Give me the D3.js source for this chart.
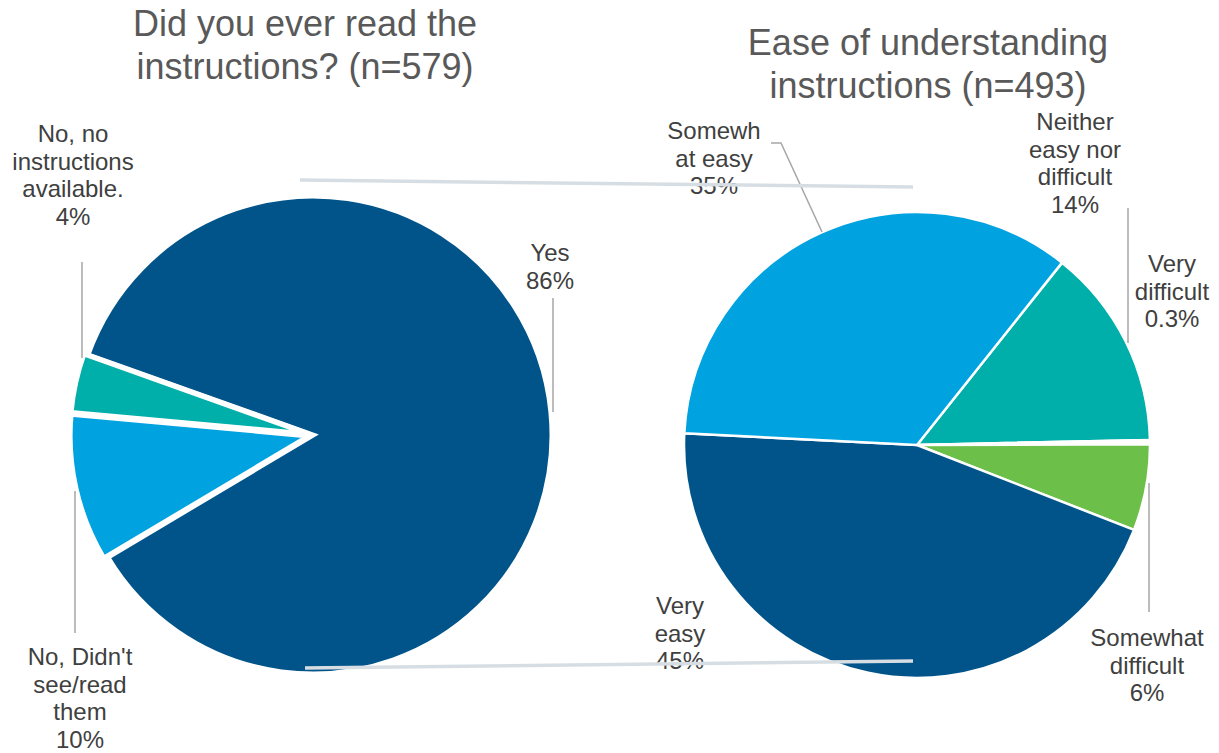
<!DOCTYPE html>
<html>
<head>
<meta charset="utf-8">
<script src="https://cdn.jsdelivr.net/npm/d3@7"></script>
<style>
  html, body { margin: 0; padding: 0; background: #fff; }
  svg { display: block; }
  text { font-family: "Liberation Sans", Arial, sans-serif; }
</style>
</head>
<body>
<svg id="chart" width="1219" height="753"></svg>
<script>
// ---------------- data ----------------
const leftTitle = ["Did you ever read the", "instructions? (n=579)"];
const leftCategories = ["Yes", "No, Didn't see/read them", "No, no instructions available."];
const leftValues = [86, 10, 4];
const leftValueLabels = ["86%", "10%", "4%"];

const rightTitle = ["Ease of understanding", "instructions (n=493)"];
const rightCategories = ["Neither easy nor difficult", "Very difficult", "Somewhat difficult", "Very easy", "Somewhat easy"];
const rightValues = [14, 0.3, 6, 45, 35];
const rightValueLabels = ["14%", "0.3%", "6%", "45%", "35%"];

// ---------------- styles / layout ----------------
const leftColors = ["#00548A", "#00A3E0", "#00AFA9"];
const rightColors = ["#00AFA9", "#FFFFFF", "#6CC04A", "#00548A", "#00A3E0"];
const deg = Math.PI / 180;

const L = { cx: 313, cy: 435, r: 239, start: -70.4 * deg, stroke: 5 };
const R = { cx: 917, cy: 445, r: 233, start: 38.5 * deg, stroke: 2.5 };

// label layout: lines of text, center x, first baseline, leader polyline
const leftLabelLayout = [
  { lines: ["Yes", "86%"], x: 550, y: 261, leader: [[553, 298], [553, 412]] },
  { lines: ["No, Didn't", "see/read", "them", "10%"], x: 80, y: 665, leader: [[75, 491], [75, 633]] },
  { lines: ["No, no", "instructions", "available.", "4%"], x: 73, y: 142, leader: [[82, 262], [82, 358]] }
];
const rightLabelLayout = [
  { lines: ["Neither", "easy nor", "difficult", "14%"], x: 1075, y: 130, leader: null },
  { lines: ["Very", "difficult", "0.3%"], x: 1172, y: 272, leader: [[1128, 208], [1128, 343]] },
  { lines: ["Somewhat", "difficult", "6%"], x: 1147, y: 646, leader: [[1149, 483], [1149, 612]] },
  { lines: ["Very", "easy", "45%"], x: 680, y: 614, leader: null },
  { lines: ["Somewh", "at easy", "35%"], x: 714, y: 139, leader: [[771, 143], [781, 143], [822, 232]] }
];
const lineStep = 27.6;

const svg = d3.select("#chart");

// ---------------- pies ----------------
function drawPie(cfg, values, colors, explodeIdx, explodeDist) {
  const pie = d3.pie().sort(null).value(d => d)
    .startAngle(cfg.start).endAngle(cfg.start + 2 * Math.PI);
  const arcs = pie(values);
  const arc = d3.arc().innerRadius(0).outerRadius(cfg.r);
  const g = svg.append("g").attr("transform", `translate(${cfg.cx},${cfg.cy})`);
  g.selectAll("path").data(arcs).join("path")
    .attr("d", arc)
    .attr("fill", (d, i) => colors[i])
    .attr("stroke", "#fff")
    .attr("stroke-width", cfg.stroke)
    .attr("stroke-linejoin", "miter")
    .attr("transform", (d, i) => {
      if (!explodeIdx.includes(i)) return null;
      const m = (d.startAngle + d.endAngle) / 2;
      return `translate(${Math.sin(m) * explodeDist},${-Math.cos(m) * explodeDist})`;
    });
  return arcs;
}

drawPie(L, leftValues, leftColors, [1, 2], 4);
drawPie(R, rightValues, rightColors, [], 0);

// ---------------- connector lines ----------------
const connectors = [
  [[L.cx - 13, L.cy - L.r - 16], [R.cx - 4, R.cy - R.r - 25]],
  [[L.cx - 8, L.cy + L.r - 6], [R.cx - 4, R.cy + R.r - 17]]
];

// ---------------- titles ----------------
function drawTitle(lines, x, y0) {
  const t = svg.append("text")
    .attr("text-anchor", "middle")
    .attr("font-size", 36)
    .attr("fill", "#595959");
  lines.forEach((s, i) => t.append("tspan").attr("x", x).attr("y", y0 + i * 43).text(s));
}
drawTitle(leftTitle, 305, 36);
drawTitle(rightTitle, 928, 55);

// ---------------- labels ----------------
function drawLabels(layout) {
  layout.forEach(lb => {
    if (lb.leader) {
      svg.append("path")
        .attr("d", d3.line()(lb.leader))
        .attr("fill", "none")
        .attr("stroke", "#A6A6A6")
        .attr("stroke-width", 1.5);
    }
    const t = svg.append("text")
      .attr("text-anchor", "middle")
      .attr("font-size", 24)
      .attr("fill", "#404040");
    lb.lines.forEach((s, i) => t.append("tspan").attr("x", lb.x).attr("y", lb.y + i * lineStep).text(s));
  });
}
drawLabels(leftLabelLayout);
drawLabels(rightLabelLayout);

// connector lines drawn on top
connectors.forEach(c => {
  svg.append("path")
    .attr("d", d3.line()(c))
    .attr("stroke", "#D7DEE3")
    .attr("stroke-width", 3.5)
    .attr("fill", "none");
});
</script>
</body>
</html>
